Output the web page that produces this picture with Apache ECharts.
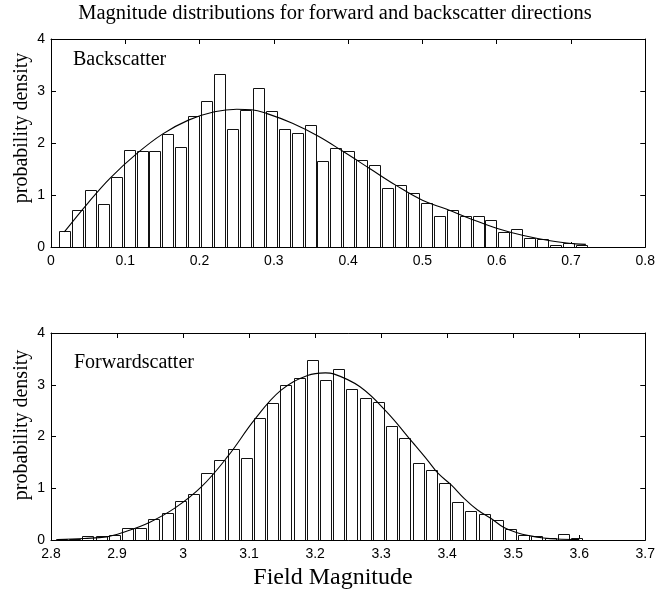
<!DOCTYPE html>
<html>
<head>
<meta charset="utf-8">
<script src="https://cdn.jsdelivr.net/npm/echarts/dist/echarts.min.js"></script>
<style>
  html, body { margin: 0; padding: 0; background: #fff; }
  #chart { width: 658px; height: 594px; }
</style>
</head>
<body>
<div id="chart"></div>
<script>
// Backscatter histogram: bin centres and probability densities
var backBinCenters = [0.0181, 0.0355, 0.0529, 0.0703, 0.0877, 0.1051, 0.1225, 0.1399, 0.1573, 0.1747,
  0.1921, 0.2095, 0.2269, 0.2443, 0.2617, 0.2791, 0.2965, 0.3139, 0.3313, 0.3487,
  0.3661, 0.3835, 0.4009, 0.4183, 0.4357, 0.4531, 0.4705, 0.4879, 0.5053, 0.5227,
  0.5401, 0.5575, 0.5749, 0.5923, 0.6097, 0.6271, 0.6445, 0.6619, 0.6793, 0.6967, 0.7141];
var backDensity = [0.30, 0.72, 1.10, 0.83, 1.34, 1.86, 1.85, 1.85, 2.18, 1.92,
  2.52, 2.81, 3.32, 2.26, 2.64, 3.06, 2.61, 2.26, 2.19, 2.35,
  1.66, 1.91, 1.84, 1.68, 1.58, 1.13, 1.19, 1.04, 0.85, 0.59,
  0.72, 0.59, 0.59, 0.51, 0.28, 0.35, 0.17, 0.15, 0.04, 0.08, 0.04];
var backBinWidth = 0.0174;

// Fitted density curve for the backscatter magnitudes
var backFitX = [0.018, 0.05, 0.08, 0.115, 0.15, 0.185, 0.22, 0.25, 0.27, 0.29, 0.325, 0.36,
  0.394, 0.429, 0.464, 0.50, 0.532, 0.567, 0.602, 0.636, 0.672, 0.706, 0.72];
var backFitY = [0.29, 0.85, 1.33, 1.79, 2.17, 2.44, 2.60, 2.65, 2.64, 2.57, 2.38, 2.13,
  1.83, 1.51, 1.19, 0.90, 0.73, 0.53, 0.35, 0.22, 0.12, 0.06, 0.05];

// Forwardscatter histogram: bin centres and probability densities
var fwdBinCenters = [2.816, 2.836, 2.856, 2.876, 2.896, 2.916, 2.936, 2.956, 2.976, 2.996,
  3.016, 3.036, 3.056, 3.076, 3.096, 3.116, 3.136, 3.156, 3.176, 3.196,
  3.216, 3.236, 3.256, 3.276, 3.296, 3.316, 3.336, 3.356, 3.376, 3.396,
  3.416, 3.436, 3.456, 3.476, 3.496, 3.516, 3.536, 3.556, 3.576, 3.596];
var fwdDensity = [0.013, 0.02, 0.08, 0.08, 0.10, 0.24, 0.23, 0.40, 0.53, 0.75,
  0.88, 1.30, 1.55, 1.75, 1.58, 2.35, 2.64, 2.99, 3.13, 3.48,
  3.09, 3.30, 2.92, 2.75, 2.66, 2.21, 1.98, 1.48, 1.35, 1.11,
  0.73, 0.56, 0.50, 0.38, 0.22, 0.09, 0.07, 0.03, 0.11, 0.03];
var fwdBinWidth = 0.02;

// Fitted density curve for the forwardscatter magnitudes
var fwdFitX = [2.81, 2.85, 2.884, 2.91, 2.949, 2.988, 3.028, 3.068, 3.1086, 3.148, 3.1885,
  3.2157, 3.228, 3.268, 3.308, 3.348, 3.371, 3.386, 3.4065, 3.426, 3.446, 3.466,
  3.486, 3.506, 3.526, 3.546, 3.566, 3.60];
var fwdFitY = [0.01, 0.03, 0.06, 0.15, 0.34, 0.62, 1.03, 1.62, 2.33, 2.89, 3.18,
  3.23, 3.21, 2.96, 2.48, 1.88, 1.53, 1.29, 1.06, 0.80, 0.58, 0.42,
  0.24, 0.14, 0.08, 0.04, 0.02, 0.01];

// Axis tick settings
var backXTicks = { min: 0, max: 0.8, interval: 0.1 };
var fwdXTicks = { min: 2.8, max: 3.7, interval: 0.1 };
var densityTicks = { min: 0, max: 4, interval: 1 };

var TICK_FONT = '"Liberation Sans", Arial, sans-serif';
var TEXT_FONT = '"Liberation Serif", "Times New Roman", serif';

function pairs(xs, ys) {
  return xs.map(function (x, i) { return [x, ys[i]]; });
}

function fmt(v) { return String(parseFloat(v.toFixed(2))); }

function axis(kind, gridIndex, ticks, position, showLabel) {
  return {
    type: 'value',
    gridIndex: gridIndex,
    position: position,
    min: ticks.min,
    max: ticks.max,
    interval: ticks.interval,
    axisLine: { show: true, onZero: false, lineStyle: { color: '#000', width: 1 } },
    axisTick: { show: true, inside: true, length: 5, lineStyle: { color: '#000', width: 1 } },
    axisLabel: {
      show: showLabel, color: '#000', fontFamily: TICK_FONT, fontSize: 14,
      margin: kind === 'x' ? 7 : 6, formatter: fmt, showMinLabel: true, showMaxLabel: true
    },
    splitLine: { show: false }
  };
}

// Each histogram bar spans 85% of its bin, outlined in black
function histBar(binWidth) {
  var half = binWidth * 0.85 / 2;
  return function (params, api) {
    var c = api.value(0), v = api.value(1);
    var tl = api.coord([c - half, v]);
    var br = api.coord([c + half, 0]);
    return {
      type: 'rect',
      shape: { x: Math.round(tl[0]) + 0.5, y: Math.round(tl[1]) + 0.5,
               width: Math.round(br[0] - tl[0]), height: Math.round(br[1] - tl[1]) },
      style: { fill: '#fff', stroke: '#111', lineWidth: 1 }
    };
  };
}

function label(text, x, y, size, align, rotation) {
  return {
    type: 'text', x: x, y: y, rotation: rotation || 0,
    style: {
      text: text, font: size + 'px ' + TEXT_FONT, fill: '#000',
      textAlign: align, textVerticalAlign: 'middle', align: align, verticalAlign: 'middle'
    }
  };
}

var chart = echarts.init(document.getElementById('chart'), null, { renderer: 'canvas' });

chart.setOption({
  animation: false,
  backgroundColor: '#fff',
  grid: [
    { left: 51, top: 39, width: 597, height: 208 },
    { left: 51, top: 333, width: 597, height: 207 }
  ],
  xAxis: [
    axis('x', 0, backXTicks, 'bottom', true),
    axis('x', 0, backXTicks, 'top', false),
    axis('x', 1, fwdXTicks, 'bottom', true),
    axis('x', 1, fwdXTicks, 'top', false)
  ],
  yAxis: [
    axis('y', 0, densityTicks, 'left', true),
    axis('y', 0, densityTicks, 'right', false),
    axis('y', 1, densityTicks, 'left', true),
    axis('y', 1, densityTicks, 'right', false)
  ],
  series: [
    {
      type: 'custom', xAxisIndex: 0, yAxisIndex: 0, clip: true,
      renderItem: histBar(backBinWidth),
      data: pairs(backBinCenters, backDensity)
    },
    {
      type: 'line', xAxisIndex: 0, yAxisIndex: 0, smooth: 0.4, symbol: 'none',
      lineStyle: { color: '#000', width: 1.1 },
      data: pairs(backFitX, backFitY)
    },
    {
      type: 'custom', xAxisIndex: 2, yAxisIndex: 2, clip: true,
      renderItem: histBar(fwdBinWidth),
      data: pairs(fwdBinCenters, fwdDensity)
    },
    {
      type: 'line', xAxisIndex: 2, yAxisIndex: 2, smooth: 0.4, symbol: 'none',
      lineStyle: { color: '#000', width: 1.1 },
      data: pairs(fwdFitX, fwdFitY)
    }
  ],
  graphic: [
    label('Magnitude distributions for forward and backscatter directions', 335, 14, 20.5, 'center'),
    label('Backscatter', 73, 60, 20, 'left'),
    label('Forwardscatter', 74, 363, 20, 'left'),
    label('probability density', 22, 128, 20, 'center', Math.PI / 2),
    label('probability density', 22, 425, 20, 'center', Math.PI / 2),
    label('Field Magnitude', 333, 578, 24, 'center')
  ]
});
</script>
</body>
</html>
